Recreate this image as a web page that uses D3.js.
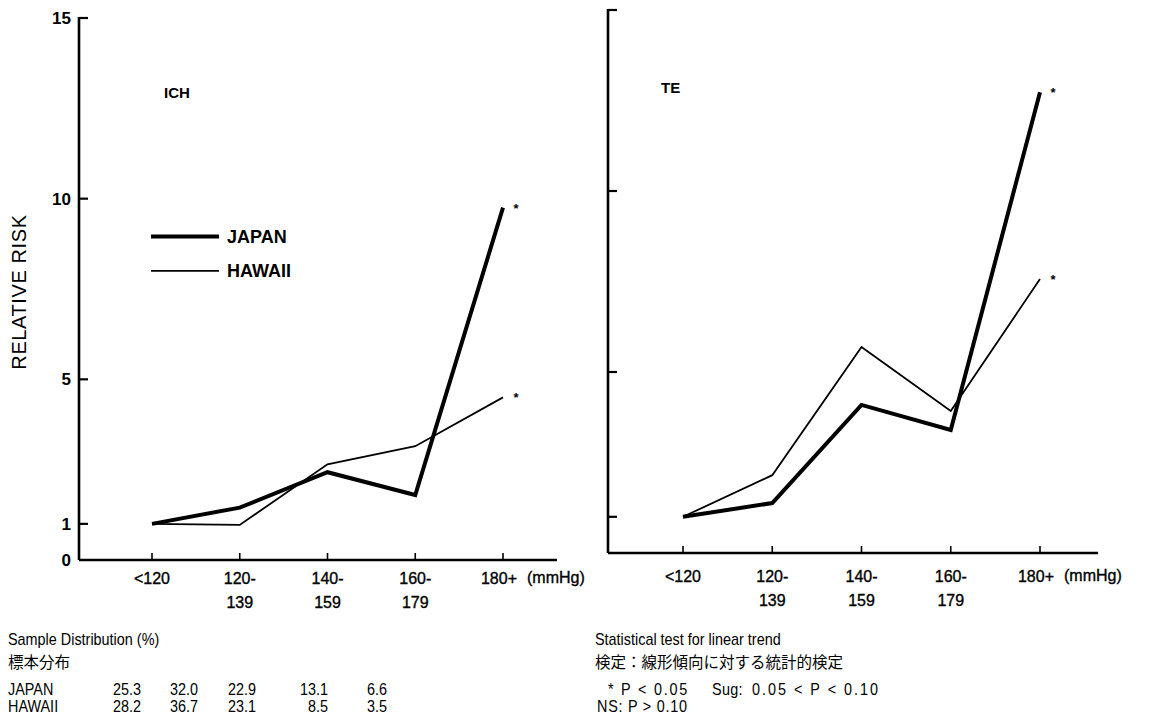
<!DOCTYPE html>
<html>
<head>
<meta charset="utf-8">
<script src="https://cdn.jsdelivr.net/npm/d3@7"></script>
<style>
  body { margin: 0; background: #fff; }
  svg text { fill: #000; }
</style>
</head>
<body>
<div id="chart"></div>
<script>
(function() {

// categories and tick labels
const bpGroups = ["<120", "120-139", "140-159", "160-179", "180+"];
const bpLine1 = ["<120", "120-", "140-", "160-", "180+"];
const bpLine2 = ["", "139", "159", "179", ""];
const yTicks = [1, 5, 10, 15];

// relative risk
const ichJapan = [1, 1.45, 2.43, 1.8, 9.75];
const ichHawaii = [1, 0.97, 2.65, 3.15, 4.5];
const teJapan = [1, 1.38, 4.09, 3.4, 12.73];
const teHawaii = [1, 2.15, 5.69, 3.92, 7.57];

// sample distribution (%)
const distCountries = ["JAPAN", "HAWAII"];
const distJapan = ["25.3", "32.0", "22.9", "13.1", "6.6"];
const distHawaii = ["28.2", "36.7", "23.1", "8.5", "3.5"];

const W = 1167, H = 720;
const font = "'Liberation Sans', Arial, Helvetica, sans-serif";
const jp = "'Noto Sans CJK JP', sans-serif";

const svg = d3.select("#chart")
  .append("svg")
  .attr("width", W)
  .attr("height", H);

// one panel = axis frame + two lines + asterisks
function drawPanel(p) {
  const x = d3.scalePoint().domain(bpGroups).range(p.xRange);
  const y = d3.scaleLinear().domain([0, 15]).range(p.yRange);
  const g = svg.append("g");

  // y axis line and inward ticks
  g.append("line")
    .attr("x1", p.axisX).attr("x2", p.axisX)
    .attr("y1", y(15) - 1).attr("y2", y(0))
    .attr("stroke", "#000").attr("stroke-width", 2.6);
  g.selectAll(".ytick")
    .data(yTicks)
    .join("line")
    .attr("x1", p.axisX).attr("x2", p.axisX + 9)
    .attr("y1", d => y(d)).attr("y2", d => y(d))
    .attr("stroke", "#000").attr("stroke-width", 2.2);

  if (p.yLabels) {
    g.selectAll(".ylab")
      .data([0, 1, 5, 10, 15])
      .join("text")
      .attr("x", p.axisX - 8)
      .attr("y", d => y(d))
      .attr("dy", "0.36em")
      .attr("text-anchor", "end")
      .style("font", `bold 17px ${font}`)
      .text(d => d);
  }

  // x axis line and small upward ticks
  g.append("line")
    .attr("x1", p.axisX).attr("x2", p.xEnd)
    .attr("y1", y(0)).attr("y2", y(0))
    .attr("stroke", "#000").attr("stroke-width", 2.6);
  g.selectAll(".xtick")
    .data(bpGroups)
    .join("line")
    .attr("x1", d => x(d)).attr("x2", d => x(d))
    .attr("y1", y(0)).attr("y2", y(0) - 7)
    .attr("stroke", "#000").attr("stroke-width", 1.6);

  const labStyle = sel => sel
    .style("font", `16px ${font}`)
    .style("stroke", "#000").style("stroke-width", 0.35);

  g.selectAll(".xl1")
    .data(bpGroups)
    .join("text")
    .attr("x", (d, i) => x(d) - (i == 4 ? 4 : 0))
    .attr("y", y(0) + p.lab1)
    .attr("text-anchor", "middle")
    .call(labStyle)
    .text((d, i) => bpLine1[i]);
  g.selectAll(".xl2")
    .data(bpGroups)
    .join("text")
    .attr("x", d => x(d))
    .attr("y", y(0) + p.lab2)
    .attr("text-anchor", "middle")
    .call(labStyle)
    .text((d, i) => bpLine2[i]);
  g.append("text")
    .attr("x", x("180+") + 24)
    .attr("y", y(0) + p.lab1 - 1)
    .call(labStyle)
    .text("(mmHg)");

  // panel title
  g.append("text")
    .attr("x", p.titleX).attr("y", p.titleY)
    .style("font", `bold 15px ${font}`)
    .text(p.title);

  const line = d3.line()
    .x((d, i) => x(bpGroups[i]))
    .y(d => y(d));

  g.append("path")
    .datum(p.hawaii)
    .attr("d", line)
    .attr("fill", "none").attr("stroke", "#000")
    .attr("stroke-width", 1.8).attr("stroke-linejoin", "miter");
  g.append("path")
    .datum(p.japan)
    .attr("d", line)
    .attr("fill", "none").attr("stroke", "#000")
    .attr("stroke-width", 4).attr("stroke-linejoin", "miter");

  // significance marks at the 180+ end
  g.selectAll(".star")
    .data([p.japan[4], p.hawaii[4]])
    .join("text")
    .attr("x", x("180+") + 13)
    .attr("y", d => y(d) + 5)
    .attr("text-anchor", "middle")
    .style("font", `bold 13px ${font}`)
    .text("*");

  return { x, y };
}

const left = drawPanel({
  xRange: [152, 503], yRange: [560, 18], axisX: 79, xEnd: 557,
  title: "ICH", titleX: 164, titleY: 98, lab1: 24, lab2: 48,
  japan: ichJapan, hawaii: ichHawaii, yLabels: true
});
drawPanel({
  xRange: [683, 1040], yRange: [553, 10], axisX: 608, xEnd: 1098,
  title: "TE", titleX: 661, titleY: 93, lab1: 29, lab2: 53,
  japan: teJapan, hawaii: teHawaii, yLabels: false
});

// y axis title
svg.append("text")
  .attr("transform", "translate(26,292) rotate(-90)")
  .attr("text-anchor", "middle")
  .style("font", `20px ${font}`)
  .style("letter-spacing", "0.6px")
  .text("RELATIVE RISK");

// legend
const legend = [
  { name: "JAPAN", w: 4, y: left.y(8.95) },
  { name: "HAWAII", w: 1.8, y: left.y(8.0) }
];
const lg = svg.append("g");
lg.selectAll("line")
  .data(legend)
  .join("line")
  .attr("x1", 151).attr("x2", 219)
  .attr("y1", d => d.y).attr("y2", d => d.y)
  .attr("stroke", "#000").attr("stroke-width", d => d.w);
lg.selectAll("text")
  .data(legend)
  .join("text")
  .attr("x", 227).attr("y", d => d.y)
  .attr("dy", "0.36em")
  .style("font", `bold 18px ${font}`)
  .text(d => d.name);

// footer texts, squeezed a little to look like the narrow face of the original
const foot = svg.append("g").style("font", `16px ${font}`);
function note(x, y, txt, anchor) {
  return foot.append("text")
    .attr("transform", `translate(${x},${y}) scale(0.9,1)`)
    .attr("text-anchor", anchor || "start")
    .text(txt);
}

note(8, 645, "Sample Distribution (%)");
foot.append("text").attr("x", 8).attr("y", 668)
  .style("font", `15.5px ${jp}`).text("標本分布");

const colRight = [141, 198, 256, 328, 387];
[distJapan, distHawaii].forEach((row, r) => {
  const yy = 695 + r * 17;
  note(8, yy, distCountries[r]);
  row.forEach((v, i) => note(colRight[i], yy, v, "end"));
});

// trend test notes
note(595, 645, "Statistical test for linear trend");
foot.append("text").attr("x", 595).attr("y", 668)
  .style("font", `15.5px ${jp}`).text("検定：線形傾向に対する統計的検定");
note(608, 695, "* P < 0.05").attr("textLength", 88).attr("lengthAdjust", "spacing");
note(712, 695, "Sug:").attr("textLength", 34).attr("lengthAdjust", "spacing");
note(752, 695, "0.05 < P < 0.10").attr("textLength", 140).attr("lengthAdjust", "spacing");
note(597, 712, "NS: P > 0.10").attr("textLength", 100).attr("lengthAdjust", "spacing");

})();
</script>
</body>
</html>
